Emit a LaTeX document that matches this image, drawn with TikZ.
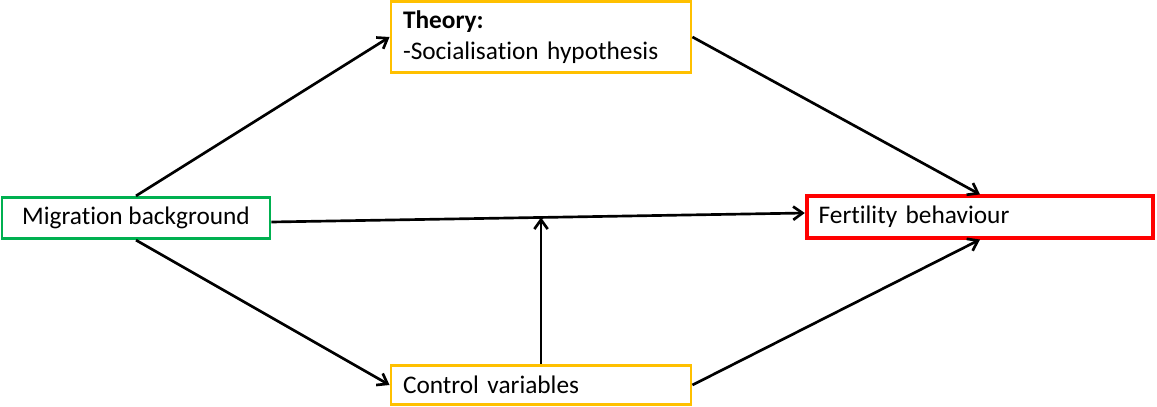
\documentclass[tikz,border=0pt]{standalone}
\usepackage{fontspec}
\setmainfont{Carlito}[Ligatures=NoCommon]
\usetikzlibrary{arrows.meta,calc}
\tikzset{>={Straight Barb[length=7pt,width=10pt]}}
\definecolor{boxgold}{RGB}{255,192,0}
\definecolor{boxgreen}{RGB}{0,176,80}
\definecolor{boxred}{RGB}{255,0,0}

\begin{document}
\begin{tikzpicture}[x=0.75pt,y=-0.75pt,
    box/.style={draw, line width=2.2pt, inner sep=0pt, font=\fontsize{19}{23}\selectfont},
    link/.style={->, line width=2pt}]
     \useasboundingbox (0,0) rectangle (1157,407);
     % boxes
     \node[box, boxgold, minimum width=225pt, minimum height=53pt, text width=207pt, align=left, text=black] (theory) at (541,37) {\textbf{Theory:}\\-Socialisation hypothesis};
     \node[box, boxgreen, minimum width=201pt, minimum height=31pt, text=black] (mig) at (136,218) {Migration background};
     \node[box, boxred, line width=2.8pt, minimum width=260pt, minimum height=31pt, text width=242pt, align=left, text=black] (fert) at (980,217) {Fertility behaviour};
     \node[box, boxgold, minimum width=225pt, minimum height=29pt, text width=207pt, align=left, text=black] (ctl) at (541,385) {Control variables};
     % connectors
     \coordinate (join) at ($([yshift=-3pt]mig.east)!0.505!([yshift=3pt]fert.west)$);
     \draw[link] (mig.north) -- (theory.west);
     \draw[link] (mig.south) -- (ctl.west);
     \draw[link] ([yshift=-3pt]mig.east) -- ([yshift=3pt]fert.west);
     \draw[link] (theory.east) -- (fert.north);
     \draw[link] (ctl.east) -- (fert.south);
     \draw[link] (ctl.north) -- (ctl.north |- join);
\end{tikzpicture}
\end{document}
